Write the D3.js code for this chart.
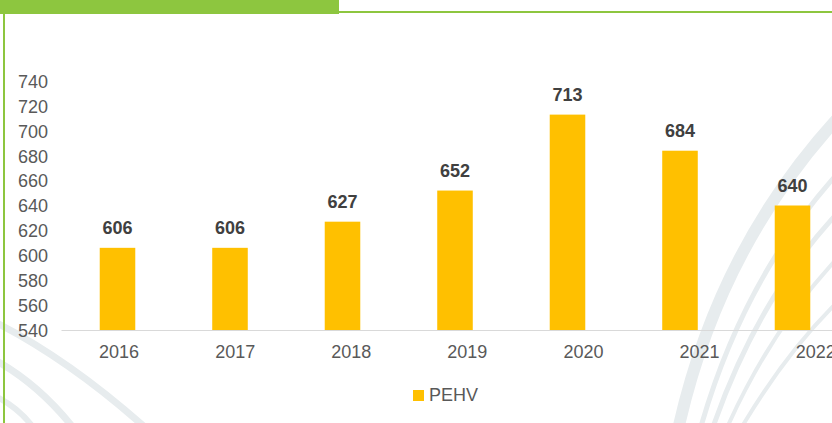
<!DOCTYPE html>
<html lang="en">
<head>
  <meta charset="UTF-8">
  <title>PEHV</title>
  <script src="https://d3js.org/d3.v7.min.js"></script>
  <style>
    body { margin: 0; background: #fff; }
    text { font-family: "Liberation Sans", Arial, sans-serif; }
    .tick text { font-size: 18px; fill: #595959; }
    .value { font-size: 18px; font-weight: bold; fill: #404040; }
  </style>
</head>
<body>
<svg width="832" height="423"></svg>
<script>
  const svg = d3.select("svg"),
        width = +svg.attr("width"),
        height = +svg.attr("height");

  // chart data
  const years = ["2016", "2017", "2018", "2019", "2020", "2021", "2022"];
  const pehv = [606, 606, 627, 652, 713, 684, 640];
  const yTicks = [540, 560, 580, 600, 620, 640, 660, 680, 700, 720, 740];
  const seriesName = "PEHV";

  // decorative background swooshes
  const deco = svg.append("g")
      .attr("fill", "none")
      .attr("stroke", "#e7ecee");
  deco.append("path").attr("stroke-width", 7).attr("d", "M-5,322 Q70,360 148,430");
  deco.append("path").attr("stroke-width", 7).attr("d", "M-5,360 Q40,385 75,430");
  deco.append("path").attr("stroke-width", 6).attr("d", "M-5,396 Q20,408 35,430");
  deco.append("path").attr("stroke-width", 12).attr("d", "M678,430 Q720,240 850,105");
  deco.append("path").attr("stroke-width", 5).attr("d", "M700,430 Q745,270 850,160");
  deco.append("path").attr("stroke-width", 5).attr("d", "M712,430 Q760,290 850,200");
  deco.append("path").attr("stroke-width", 4).attr("d", "M726,430 Q775,320 850,245");
  deco.append("path").attr("stroke-width", 4).attr("d", "M740,430 Q790,345 850,290");

  // green frame
  svg.append("rect").attr("x", 0).attr("y", 0).attr("width", 339).attr("height", 14).attr("fill", "#8dc63f");
  svg.append("rect").attr("x", 339).attr("y", 11).attr("width", width - 339).attr("height", 2).attr("fill", "#8dc63f");
  svg.append("rect").attr("x", 3).attr("y", 0).attr("width", 2).attr("height", height).attr("fill", "#8dc63f");

  // bar positions
  const x = d3.scaleBand()
      .domain(years)
      .range([61.25, 848.75])
      .paddingInner(0.684)
      .paddingOuter(0.342);

  // category labels sit on a slightly wider spacing than the bars
  const xLabel = d3.scaleBand()
      .domain(years)
      .range([61, 873.7]);

  const y = d3.scaleLinear()
      .domain([540, 740])
      .range([330, 81]);

  // y axis (labels only)
  const yAxis = svg.append("g")
      .attr("transform", "translate(48,0)")
      .call(d3.axisLeft(y).tickValues(yTicks).tickSize(0).tickPadding(0));
  yAxis.select(".domain").remove();
  yAxis.selectAll(".tick text").attr("dy", "0.35em");

  // bars
  svg.append("g")
    .selectAll("rect")
    .data(pehv)
    .enter().append("rect")
      .attr("x", (d, i) => x(years[i]))
      .attr("y", d => y(d))
      .attr("width", x.bandwidth())
      .attr("height", d => y(540) - y(d))
      .attr("fill", "#ffc000");

  // x axis
  const xAxis = svg.append("g")
      .attr("transform", "translate(0,330)")
      .call(d3.axisBottom(xLabel).tickSize(0).tickPadding(15));
  xAxis.select(".domain").attr("stroke", "#d9d9d9").attr("stroke-width", 1.2);

  // value labels
  svg.append("g")
    .selectAll("text")
    .data(pehv)
    .enter().append("text")
      .attr("class", "value")
      .attr("x", (d, i) => x(years[i]) + x.bandwidth() / 2)
      .attr("y", d => y(d) - 14)
      .attr("text-anchor", "middle")
      .text(d => d);

  // legend
  const legend = svg.append("g").attr("transform", "translate(413,390)");
  legend.append("rect").attr("width", 11).attr("height", 11).attr("fill", "#ffc000");
  legend.append("text")
      .attr("x", 16)
      .attr("y", 11)
      .attr("font-size", 18)
      .attr("fill", "#595959")
      .text(seriesName);
</script>
</body>
</html>
